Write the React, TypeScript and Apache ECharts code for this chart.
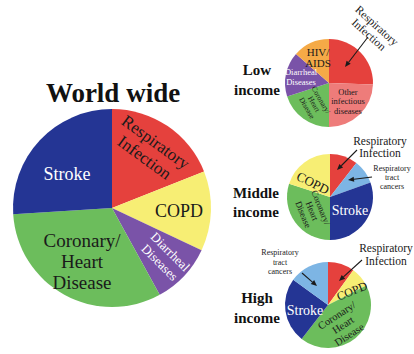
import React, { useEffect, useRef } from "react";
import * as echarts from "echarts";

// ---- data (percent shares, clockwise from 12 o'clock) ----
const worldNames = ["Respiratory Infection", "COPD", "Diarrheal Diseases", "Coronary/Heart Disease", "Stroke"];
const worldValues = [19, 13, 10, 32, 26];

const lowNames = ["Respiratory Infection", "Other infectious diseases", "Coronary/Heart Disease", "Diarrheal Diseases", "HIV/AIDS"];
const lowValues = [25.5, 24.5, 20, 16.5, 13.5];

const middleNames = ["Respiratory Infection", "Respiratory tract cancers", "Stroke", "Coronary/Heart Disease", "COPD"];
const middleValues = [10.5, 9, 30.5, 30, 20];

const highNames = ["Respiratory Infection", "COPD", "Coronary/Heart Disease", "Stroke", "Respiratory tract cancers"];
const highValues = [10, 7.5, 43, 24.5, 15];

const colorOf: Record<string, string> = {
  "Respiratory Infection": "#E5413D",
  "COPD": "#F7EE74",
  "Diarrheal Diseases": "#7A53A8",
  "Coronary/Heart Disease": "#6CBD5C",
  "Stroke": "#243594",
  "Respiratory tract cancers": "#7DB5E4",
  "HIV/AIDS": "#F5AA47",
  "Other infectious diseases": "#EE7C7A",
};

const FONT = '"Liberation Serif", "DejaVu Serif", serif';

function pie(names: string[], values: number[], center: [number, number], r: number) {
  return {
    type: "pie",
    center,
    radius: r,
    startAngle: 90,
    clockwise: true,
    silent: true,
    z: 1,
    label: { show: false },
    labelLine: { show: false },
    emphasis: { disabled: true },
    itemStyle: { borderWidth: 0 },
    data: names.map((n, i) => ({ name: n, value: values[i], itemStyle: { color: colorOf[n] } })),
  };
}

// rot: degrees clockwise (text descending to the right when positive)
function txt(text: string, x: number, y: number, size: number, opts: any = {}) {
  const deg = opts.rot || 0;
  return {
    type: "text",
    x,
    y,
    z: 100,
    rotation: (-deg * Math.PI) / 180,
    silent: true,
    style: {
      text,
      fill: opts.color || "#1a1a1a",
      font: `${opts.bold ? "bold " : ""}${size}px ${FONT}`,
      align: "center",
      verticalAlign: "middle",
      lineHeight: opts.lh || Math.round(size * 1.05),
    },
  };
}

function arrow(x1: number, y1: number, x2: number, y2: number) {
  const a = Math.atan2(y2 - y1, x2 - x1);
  const L = 6, w = 2.6;
  const bx = x2 - L * Math.cos(a), by = y2 - L * Math.sin(a);
  return [
    { type: "line", z: 100, silent: true, shape: { x1, y1, x2: bx, y2: by }, style: { stroke: "#1a1a1a", lineWidth: 1.1 } },
    {
      type: "polygon",
      z: 100,
      silent: true,
      shape: { points: [[x2, y2], [bx + w * Math.sin(a), by - w * Math.cos(a)], [bx - w * Math.sin(a), by + w * Math.cos(a)]] },
      style: { fill: "#1a1a1a" },
    },
  ];
}

export default function App() {
  const ref = useRef<HTMLDivElement>(null);
  useEffect(() => {
    document.body.style.margin = "0";
    const chart = echarts.init(ref.current!, null, { renderer: "svg" });
    const W = "#ffffff";
    chart.setOption({
      animation: false,
      backgroundColor: "#ffffff",
      series: [
        pie(worldNames, worldValues, [112, 208], 99),
        pie(lowNames, lowValues, [329, 83], 44),
        pie(middleNames, middleValues, [330, 197], 43),
        pie(highNames, highValues, [328, 305], 43),
      ],
      graphic: {
        elements: [
          // titles
          txt("World wide", 113, 93, 27, { bold: true, color: "#111" }),
          txt("Low\nincome", 257, 80, 15, { bold: true, color: "#111", lh: 20 }),
          txt("Middle\nincome", 256, 202, 15, { bold: true, color: "#111", lh: 19 }),
          txt("High\nincome", 257, 308, 15, { bold: true, color: "#111", lh: 20 }),
          // world wide labels
          txt("Stroke", 67, 174, 18, { color: W }),
          txt("Respiratory\nInfection", 150, 150, 17, { rot: 36, lh: 19 }),
          txt("COPD", 179, 211, 18),
          txt("Diarrheal\nDiseases", 165, 257, 13, { rot: 45, color: W, lh: 15 }),
          txt("Coronary/\nHeart\nDisease", 82, 261, 19, { lh: 21 }),
          // low income labels
          txt("HIV/\nAIDS", 318, 57, 11, { lh: 11 }),
          txt("Diarrheal\nDiseases", 301, 77, 8.5, { color: W, lh: 10 }),
          txt("Coronary/\nHeart\nDisease", 314, 104, 7.5, { rot: 60, lh: 8 }),
          txt("Other\ninfectious\ndiseases", 348, 101, 8.5, { lh: 9.5 }),
          txt("Respiratory\nInfection", 373, 30, 11.5, { rot: 42, lh: 12 }),
          ...arrow(368, 37, 345, 67),
          // middle income labels
          txt("Respiratory\nInfection", 380, 147, 11.5, { lh: 12 }),
          ...arrow(357, 150, 337, 170),
          txt("Respiratory\ntract\ncancers", 392, 177, 8, { lh: 9 }),
          ...arrow(372, 177, 348, 180),
          txt("COPD", 313, 183, 13, { rot: 27 }),
          txt("Coronary/\nHeart\nDisease", 312, 211, 9, { rot: 68, lh: 9.5 }),
          txt("Stroke", 350, 210, 14, { color: W }),
          // high income labels
          txt("Respiratory\ntract\ncancers", 280, 262, 8, { lh: 9.5 }),
          ...arrow(302, 273, 317, 286),
          txt("Respiratory\nInfection", 386, 254, 11.5, { lh: 13 }),
          ...arrow(362, 260, 339, 281),
          txt("COPD", 352, 291, 12, { rot: -22 }),
          txt("Stroke", 305, 310, 14, { color: W }),
          txt("Coronary/\nHeart\nDisease", 343, 325, 10.5, { rot: -33, lh: 11.5 }),
        ],
      },
    });
    return () => chart.dispose();
  }, []);
  return <div ref={ref} style={{ width: 414, height: 354 }} />;
}
